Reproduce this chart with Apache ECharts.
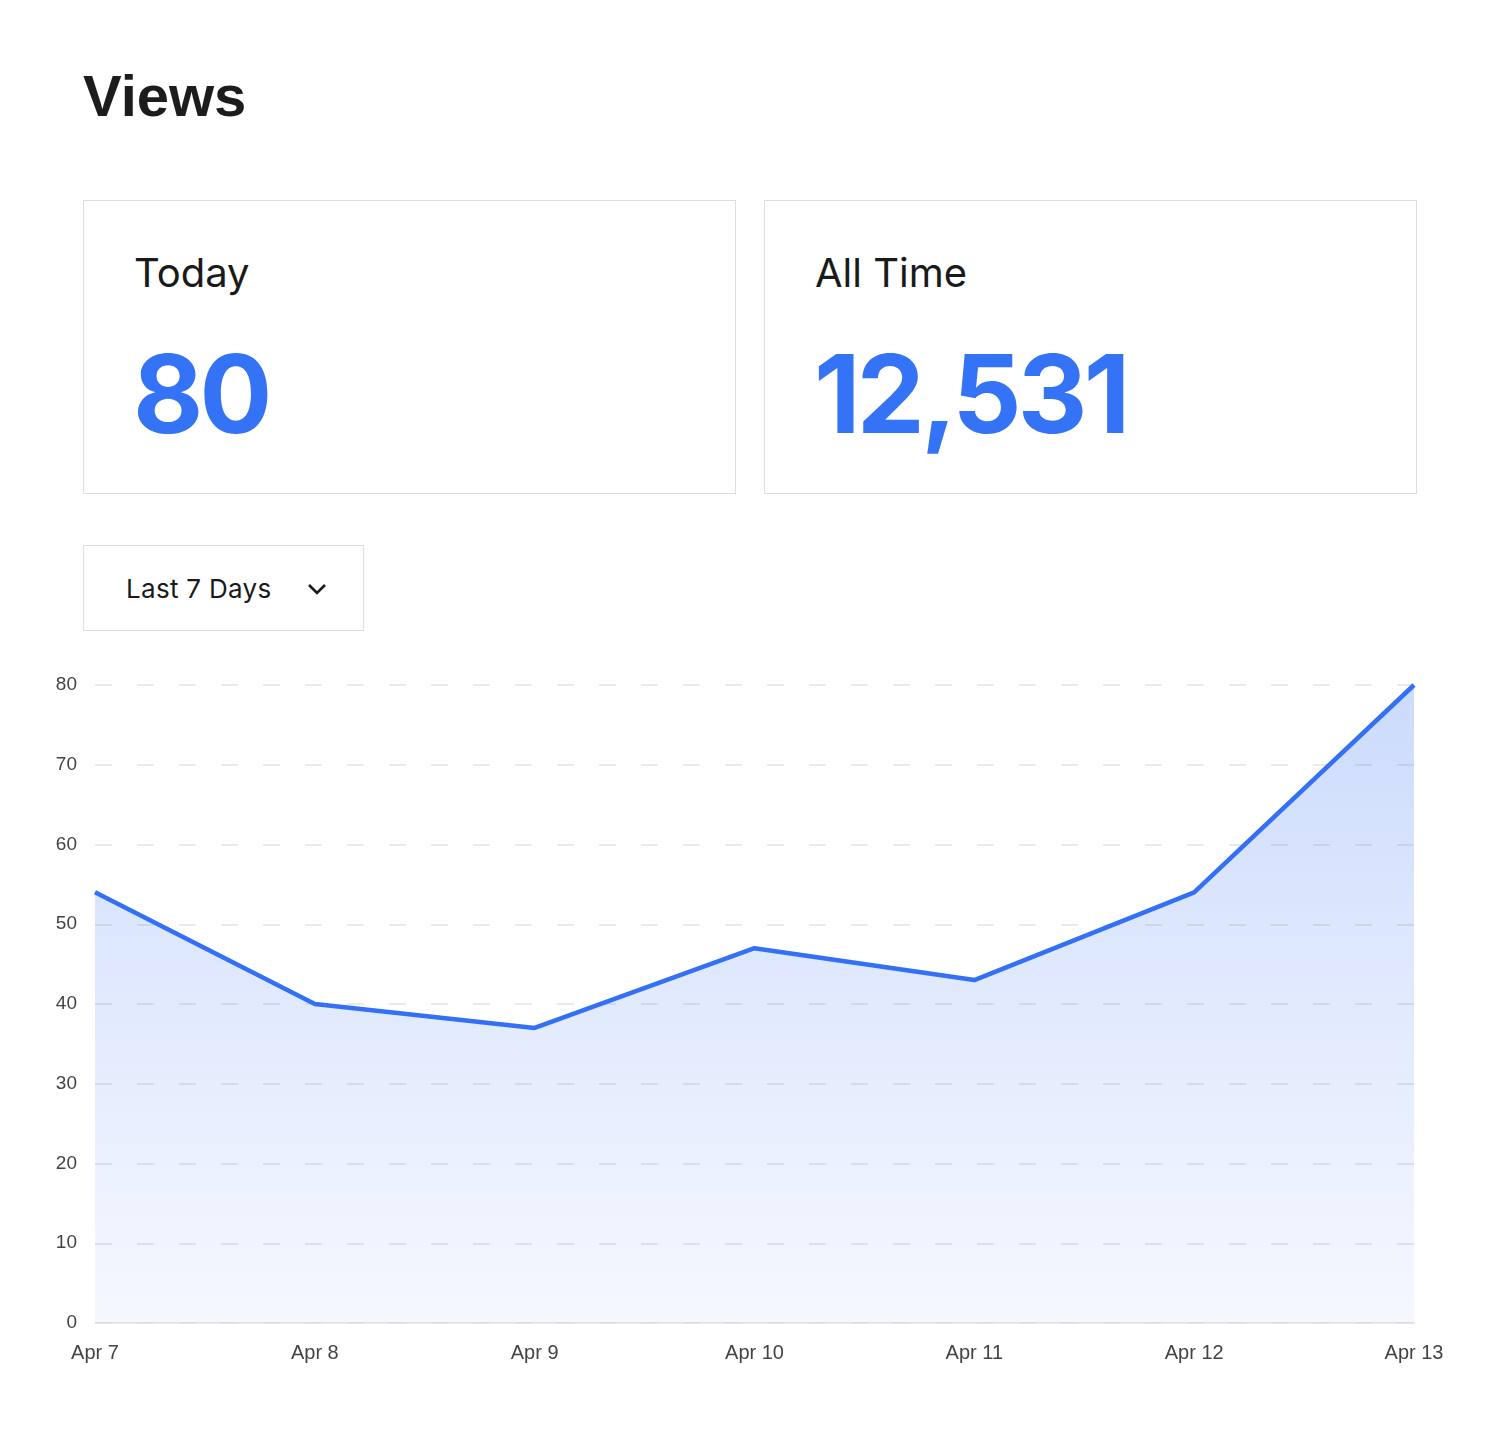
<!DOCTYPE html>
<html>
<head>
<meta charset="utf-8">
<title>Views</title>
<script src="https://cdn.jsdelivr.net/npm/echarts@6/dist/echarts.min.js"></script>
<style>
    html, body { margin: 0; padding: 0; background: #fff; }
    body { width: 1500px; height: 1440px; position: relative; font-family: Inter, "Liberation Sans", sans-serif; color: #1a1a1a; }
    .title { position: absolute; left: 83px; top: 62px; font: bold 58px "Liberation Sans", Arial, sans-serif; color: #1c1c1c; }
    .card { position: absolute; top: 200px; width: 653px; height: 294px; border: 1px solid #dedede; box-sizing: border-box; }
    .card .label { position: absolute; left: 50px; top: 47px; font-size: 40px; font-weight: 400; }
    .card .num { position: absolute; left: 49px; top: 127px; font-size: 108px; font-weight: 700; color: #3573f6; letter-spacing: -3.8px; }
    .dropdown { position: absolute; left: 83px; top: 545px; width: 281px; height: 86px; border: 1px solid #dedede; box-sizing: border-box; }
    .dropdown span { position: absolute; left: 42px; top: 27px; font-size: 26px; letter-spacing: 0.3px; }
    .dropdown svg { position: absolute; left: 223px; top: 36px; }
    .chart { position: absolute; left: 0; top: 640px; width: 1500px; height: 760px; }
</style>
</head>
<body>
<div class="title">Views</div>
<div class="card" style="left:83px"><div class="label">Today</div><div class="num" id="today"></div></div>
<div class="card" style="left:764px"><div class="label">All Time</div><div class="num" id="alltime"></div></div>
<div class="dropdown"><span>Last 7 Days</span>
    <svg width="20" height="14" viewBox="0 0 20 14"><polyline points="2,3 10,11 18,3" fill="none" stroke="#1a1a1a" stroke-width="2.6"/></svg>
</div>
<div class="chart"></div>

<script>
    var days = ['Apr 7', 'Apr 8', 'Apr 9', 'Apr 10', 'Apr 11', 'Apr 12', 'Apr 13'];
    var views = [54, 40, 37, 47, 43, 54, 80];
    var todayViews = '80';
    var allTimeViews = '12,531';

    document.getElementById('today').textContent = todayViews;
    document.getElementById('alltime').textContent = allTimeViews;

    var myChart = echarts.init(document.querySelector('.chart'));

    var option = {
        animation: false,
        grid: {
            left: 95,
            right: 86,
            top: 45,
            bottom: 77
        },
        xAxis: {
            type: 'category',
            boundaryGap: false,
            data: days,
            axisLine: { lineStyle: { color: '#e3e3e3', width: 1.5 } },
            axisTick: { show: false },
            axisLabel: {
                color: '#444',
                fontSize: 20,
                fontFamily: 'Liberation Sans, Arial, sans-serif',
                margin: 20
            }
        },
        yAxis: {
            type: 'value',
            min: 0,
            max: 80,
            interval: 10,
            axisLine: { show: false },
            axisTick: { show: false },
            axisLabel: {
                color: '#444',
                fontSize: 19,
                fontFamily: 'Liberation Sans, Arial, sans-serif',
                margin: 18
            },
            splitLine: {
                lineStyle: {
                    color: '#e4e4e4',
                    width: 1.5,
                    type: [17, 25]
                }
            }
        },
        series: [{
            name: 'Views',
            type: 'line',
            data: views,
            symbol: 'none',
            lineStyle: { color: '#3370f5', width: 4.5 },
            areaStyle: {
                color: new echarts.graphic.LinearGradient(0, 0, 0, 1, [
                    { offset: 0, color: 'rgba(51,112,245,0.36)' },
                    { offset: 0.35, color: 'rgba(51,112,245,0.25)' },
                    { offset: 1, color: 'rgba(51,112,245,0.07)' }
                ])
            }
        }]
    };
    myChart.setOption(option);
</script>
</body>
</html>
